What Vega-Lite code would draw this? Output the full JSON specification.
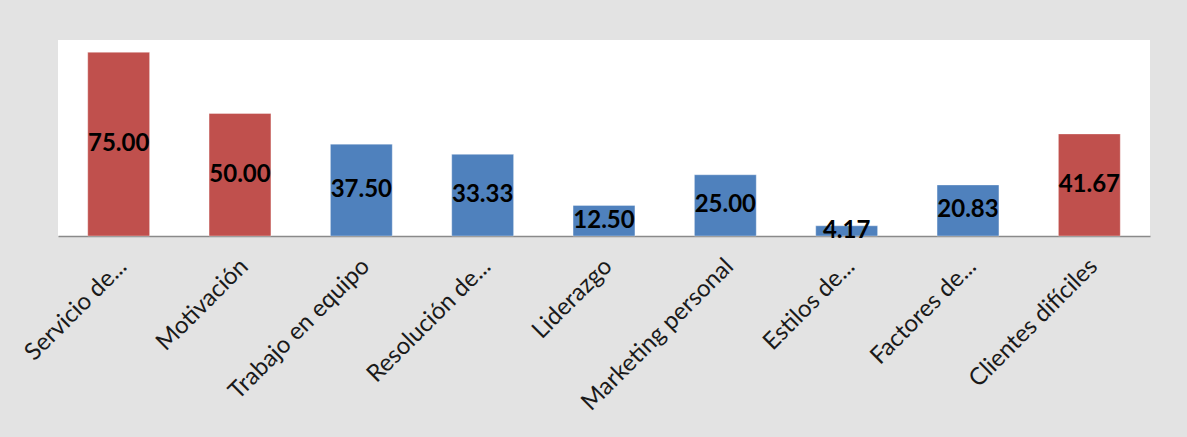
{
  "$schema": "https://vega.github.io/schema/vega-lite/v6.json",
  "width": 1092,
  "height": 196,
  "autosize": {"type": "none"},
  "padding": {"left": 58, "top": 40, "right": 37, "bottom": 201},
  "background": "#e3e3e3",
  "config": {
    "view": {"stroke": null, "fill": "white"},
    "font": "Lato"
  },
  "data": {
    "values": [
      {"tema": "Servicio de...", "valor": 75.00, "grupo": "rojo"},
      {"tema": "Motivación", "valor": 50.00, "grupo": "rojo"},
      {"tema": "Trabajo en equipo", "valor": 37.50, "grupo": "azul"},
      {"tema": "Resolución de...", "valor": 33.33, "grupo": "azul"},
      {"tema": "Liderazgo", "valor": 12.50, "grupo": "azul"},
      {"tema": "Marketing personal", "valor": 25.00, "grupo": "azul"},
      {"tema": "Estilos de...", "valor": 4.17, "grupo": "azul"},
      {"tema": "Factores de...", "valor": 20.83, "grupo": "azul"},
      {"tema": "Clientes difíciles", "valor": 41.67, "grupo": "rojo"}
    ]
  },
  "encoding": {
    "x": {
      "field": "tema",
      "type": "nominal",
      "sort": null,
      "title": null,
      "scale": {"paddingInner": 0.49, "paddingOuter": 0.245},
      "axis": {
        "labelAngle": -45,
        "labelAlign": "right",
        "labelBaseline": "top",
        "labelPadding": 18,
        "labelOffset": -4,
        "labelFontSize": 24,
        "labelColor": "#1a1a1a",
        "labelLimit": 400,
        "ticks": false,
        "domainColor": "#8a8a8a",
        "domainWidth": 1.5,
        "grid": false
      }
    }
  },
  "layer": [
    {
      "mark": {"type": "bar", "stroke": "#ffffff", "strokeOpacity": 0.35, "strokeWidth": 1},
      "encoding": {
        "y": {"field": "valor", "type": "quantitative", "scale": {"domain": [0, 80]}, "axis": null},
        "color": {
          "field": "grupo",
          "type": "nominal",
          "scale": {"domain": ["rojo", "azul"], "range": ["#C0504D", "#4F81BD"]},
          "legend": null
        }
      }
    },
    {
      "mark": {"type": "text", "fontSize": 24, "fontWeight": "bold", "color": "#000000", "baseline": "middle", "align": "center"},
      "encoding": {
        "y": {"field": "valor", "type": "quantitative", "scale": {"domain": [0, 160]}, "axis": null},
        "text": {"field": "valor", "type": "quantitative", "format": ".2f"}
      }
    }
  ],
  "resolve": {"scale": {"y": "independent"}}
}
